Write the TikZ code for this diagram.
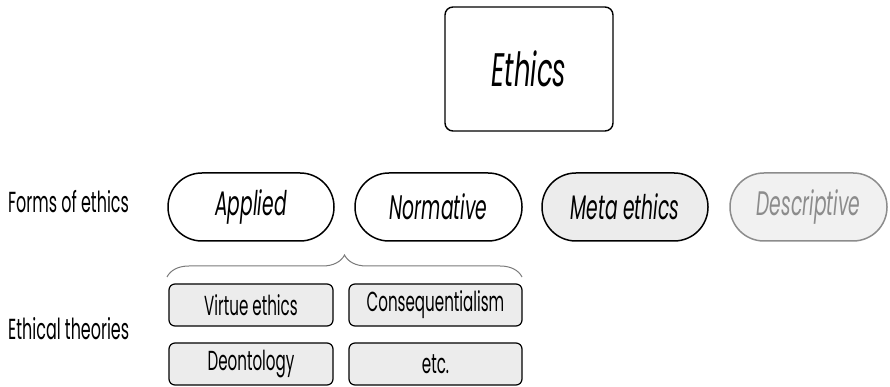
\documentclass[tikz,border=0pt]{standalone}
\usepackage{fontspec}
\setmainfont{Poppins}[FakeStretch=0.55]
\usetikzlibrary{decorations.pathreplacing}
\definecolor{boxfill}{HTML}{ECECEC}
\definecolor{descgray}{HTML}{8C8C8C}
\definecolor{descfill}{HTML}{F1F1F1}
\definecolor{bracegray}{HTML}{7A7A7A}
\tikzset{
  pill/.style={draw=black, line width=1.5pt, rounded corners=33.9pt, minimum height=68pt, inner sep=0pt, font=\fontsize{34}{36}\selectfont\itshape},
  theory/.style={draw=black, line width=1.2pt, fill=boxfill, rounded corners=6pt, minimum height=42pt, inner sep=0pt, font=\fontsize{27.5}{29}\selectfont},
  rowlabel/.style={anchor=base west, inner sep=0pt, font=\fontsize{29}{31}\selectfont},
  topbox/.style={draw=black, line width=1.4pt, rounded corners=8pt, minimum width=168pt, minimum height=124pt, inner sep=0pt, font=\fontsize{47}{49}\selectfont\itshape}
}
\begin{document}
\begin{tikzpicture}[x=1pt,y=1pt]
\useasboundingbox (0,0) rectangle (890,387);
\node[topbox] (ethics) at (529,318) {Ethics};
\node[pill, minimum width=166pt] (applied) at (251,180) {Applied};
\node[pill, minimum width=167pt] (normative) at (438.5,180) {Normative};
\node[pill, minimum width=166pt, fill=boxfill] (meta) at (625,180) {Meta ethics};
\node[pill, minimum width=157pt, draw=descgray, fill=descfill, text=descgray] (descriptive) at (808.5,180) {Descriptive};
\node[rowlabel] (forms) at (8,174) {Forms of ethics};
\node[rowlabel] (theories) at (8,47) {Ethical theories};
\node[theory, minimum width=164pt] (virtue) at (251,82) {Virtue ethics};
\node[theory, minimum width=173pt] (conseq) at (435.5,82) {Consequentialism};
\node[theory, minimum width=164pt] (deon) at (251,23) {Deontology};
\node[theory, minimum width=173pt] (etc) at (435.5,23) {etc.};
\coordinate (braceL) at (167,110);
\coordinate (braceR) at (522,110);
\draw[bracegray, line width=1pt, decorate, decoration={brace, amplitude=22pt}] (braceL) -- (braceR);
\end{tikzpicture}
\end{document}
